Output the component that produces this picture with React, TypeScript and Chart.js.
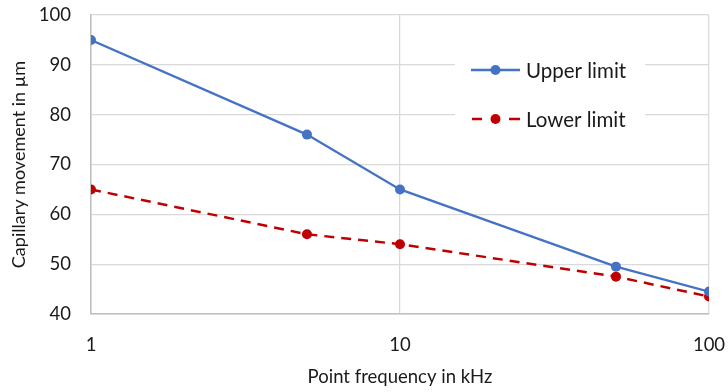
import React, { useEffect, useRef } from "react";
import { Chart, registerables } from "chart.js";

Chart.register(...registerables);

const frequencies = [1, 5, 10, 50, 100];
const upperLimit = [95, 76, 65, 49.5, 44.5];
const lowerLimit = [65, 56, 54, 47.5, 43.5];
const xTicks = [1, 10, 100];
const seriesNames = ["Upper limit", "Lower limit"];
const xTitle = "Point frequency in kHz";
const yTitle = "Capillary movement in µm";

const FONT = "Lato, 'Open Sans', sans-serif";
const BLUE = "#4472C4";
const RED = "#C00000";
const TEXT = "#1a1a1a";

const legendPlugin = {
  id: "insideLegend",
  afterDraw(chart: any) {
    const ctx = chart.ctx;
    const ca = chart.chartArea;
    const x0 = ca.left + 364;
    ctx.save();
    ctx.fillStyle = "#ffffff";
    ctx.fillRect(x0, ca.top + 35, 190, 90);
    const items = [
      { name: seriesNames[0], color: BLUE, dash: false, y: ca.top + 55 },
      { name: seriesNames[1], color: RED, dash: true, y: ca.top + 104 },
    ];
    for (const it of items) {
      ctx.strokeStyle = it.color;
      ctx.lineWidth = 2.5;
      ctx.beginPath();
      if (it.dash) {
        ctx.moveTo(x0 + 17, it.y);
        ctx.lineTo(x0 + 27, it.y);
        ctx.moveTo(x0 + 54, it.y);
        ctx.lineTo(x0 + 65, it.y);
      } else {
        ctx.moveTo(x0 + 16, it.y);
        ctx.lineTo(x0 + 65, it.y);
      }
      ctx.stroke();
      ctx.fillStyle = it.color;
      ctx.beginPath();
      ctx.arc(x0 + 40.5, it.y, 5, 0, Math.PI * 2);
      ctx.fill();
      ctx.fillStyle = TEXT;
      ctx.font = `20.5px ${FONT}`;
      ctx.textBaseline = "middle";
      ctx.textAlign = "left";
      ctx.fillText(it.name, x0 + 71, it.y + 1);
    }
    ctx.restore();
  },
};

export default function App() {
  const ref = useRef<HTMLCanvasElement>(null);
  useEffect(() => {
    document.body.style.margin = "0";
    const chart = new Chart(ref.current!, {
      type: "line",
      data: {
        datasets: [
          {
            label: seriesNames[0],
            data: frequencies.map((f, i) => ({ x: f, y: upperLimit[i] })),
            borderColor: BLUE,
            backgroundColor: BLUE,
            borderWidth: 2.25,
            pointRadius: 5,
            pointBorderWidth: 0,
            pointBackgroundColor: BLUE,
          },
          {
            label: seriesNames[1],
            data: frequencies.map((f, i) => ({ x: f, y: lowerLimit[i] })),
            borderColor: RED,
            backgroundColor: RED,
            borderWidth: 2.5,
            borderDash: [10, 7],
            pointRadius: 5,
            pointBorderWidth: 0,
            pointBackgroundColor: RED,
          },
        ],
      },
      options: {
        animation: false,
        responsive: false,
        layout: { padding: { top: 15, right: 19, left: 0, bottom: 0 } },
        plugins: { legend: { display: false }, tooltip: { enabled: false } },
        scales: {
          x: {
            type: "logarithmic",
            min: 1,
            max: 100,
            afterBuildTicks: (axis: any) => {
              axis.ticks = xTicks.map((v) => ({ value: v }));
            },
            afterFit: (axis: any) => {
              axis.height = 78;
              axis.paddingLeft = 0;
              axis.paddingRight = 0;
            },
            ticks: {
              callback: (v: any) => String(v),
              font: { family: FONT, size: 18.5 },
              color: TEXT,
              padding: 20,
              maxRotation: 0,
              autoSkip: false,
            },
            grid: { color: "#d9d9d9", lineWidth: 1.25, drawTicks: false },
            border: { color: "#bfbfbf", width: 1.5 },
            title: {
              display: true,
              text: xTitle,
              font: { family: FONT, size: 18.5 },
              color: TEXT,
              padding: { top: 8, bottom: 4 },
            },
          },
          y: {
            min: 40,
            max: 100,
            afterFit: (axis: any) => {
              axis.width = 91;
              axis.paddingTop = 0;
              axis.paddingBottom = 0;
            },
            ticks: {
              stepSize: 10,
              font: { family: FONT, size: 18.5 },
              color: TEXT,
              padding: 20,
            },
            grid: { color: "#d9d9d9", lineWidth: 1.25, drawTicks: false },
            border: { color: "#bfbfbf", width: 1.5 },
            title: {
              display: true,
              text: yTitle,
              font: { family: FONT, size: 18 },
              color: TEXT,
              padding: { top: 8, bottom: 4 },
            },
          },
        },
      },
      plugins: [legendPlugin],
    } as any);
    return () => chart.destroy();
  }, []);
  return (
    <div style={{ width: 728, height: 392 }}>
      <canvas ref={ref} width={728} height={392} />
    </div>
  );
}
